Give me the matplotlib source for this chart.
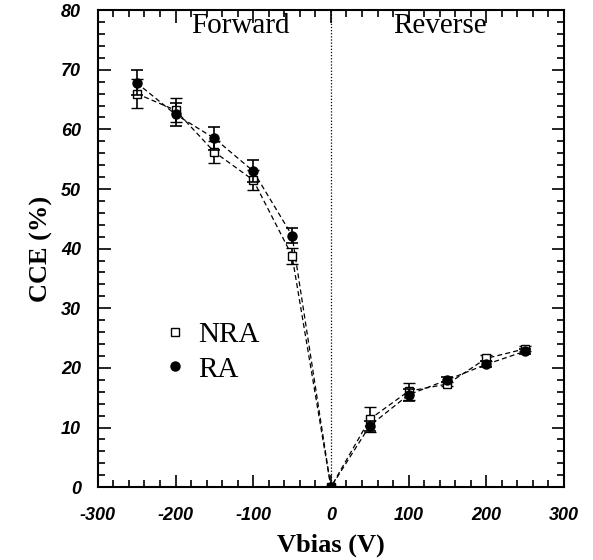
import matplotlib
matplotlib.use("Agg")
from matplotlib import pyplot as plt
from matplotlib.ticker import MultipleLocator

plt.rcParams["axes.unicode_minus"] = False

vbias = [-250, -200, -150, -100, -50, 0, 50, 100, 150, 200, 250]
nra = [66.0, 63.2, 56.2, 51.5, 38.8, 0.0, 11.4, 16.1, 17.3, 21.6, 23.2]
nra_err = [2.4, 2.0, 1.9, 1.7, 1.3, 0.0, 2.1, 1.4, 0.4, 0.5, 0.4]
ra = [67.8, 62.5, 58.5, 53.0, 42.2, 0.0, 10.3, 15.5, 18.0, 20.6, 22.8]
ra_err = [2.1, 2.0, 1.9, 1.8, 1.3, 0.0, 0.8, 1.0, 0.4, 0.5, 0.4]

fig = plt.figure(figsize=(5.93, 5.6), dpi=100)
ax = fig.add_axes([0.165, 0.13, 0.786, 0.852])

ax.errorbar(vbias, nra, yerr=nra_err, fmt="s", mfc="white", mec="black",
            ms=6, mew=1, color="black", elinewidth=1.2, capsize=4,
            capthick=1.2, label="NRA", zorder=3)
ax.errorbar(vbias, ra, yerr=ra_err, fmt="o", mfc="black", mec="black",
            ms=6.5, color="black", elinewidth=1.2, capsize=4,
            capthick=1.2, label="RA", zorder=4)
ax.plot(vbias, nra, "--", color="black", lw=0.9, dashes=(4, 2.5))
ax.plot(vbias, ra, "--", color="black", lw=0.9, dashes=(4, 2.5))
ax.axvline(0, color="black", lw=0.9, ls=(0, (1, 1.5)))

ax.set_xlim(-300, 300)
ax.set_ylim(0, 80)
ax.xaxis.set_major_locator(MultipleLocator(100))
ax.xaxis.set_minor_locator(MultipleLocator(20))
ax.yaxis.set_major_locator(MultipleLocator(10))
ax.yaxis.set_minor_locator(MultipleLocator(2))
ax.tick_params(which="both", direction="in", top=True, right=True, width=1.2)
ax.tick_params(which="major", length=9)
ax.tick_params(which="minor", length=5)
ax.tick_params(axis="x", pad=14)
ax.tick_params(axis="y", pad=12)
for s in ax.spines.values():
    s.set_linewidth(1.5)
for lab in ax.get_xticklabels() + ax.get_yticklabels():
    lab.set_family("Liberation Sans")
    lab.set_weight("bold")
    lab.set_style("italic")
    lab.set_fontsize(13)

ax.set_xlabel("Vbias (V)", family="Liberation Serif", weight="bold", fontsize=19, labelpad=7)
ax.set_ylabel("CCE (%)", family="Liberation Serif", weight="bold", fontsize=19, labelpad=6)

ax.text(-117, 77.4, "Forward", family="Liberation Serif", fontsize=21,
        ha="center", va="center")
ax.text(141, 77.4, "Reverse", family="Liberation Serif", fontsize=21,
        ha="center", va="center")

h, l = ax.get_legend_handles_labels()
h = [x[0] for x in h]
ax.legend(h, l, loc="center left", bbox_to_anchor=(0.09, 0.283), frameon=False,
          handlelength=0.6, handletextpad=0.5, labelspacing=0.28,
          prop={"family": "Liberation Serif", "size": 21})

plt.savefig("out.png", dpi=100)
